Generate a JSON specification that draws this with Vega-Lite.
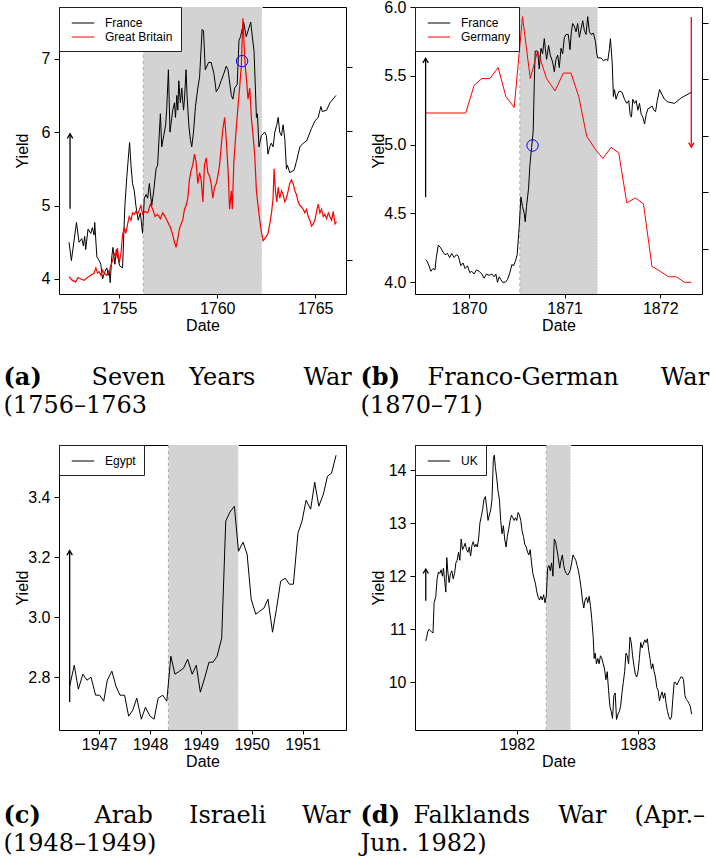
{
"$schema": "https://vega.github.io/schema/vega-lite/v6.json",
"background": "white",
"padding": {"left": 2, "top": -2, "right": 0, "bottom": 0},
"columns": 2,
"spacing": {"row": 151, "column": 69},
"bounds": "flush",
"resolve": {"scale": {"color": "independent"}, "legend": {"color": "independent"}},
"datasets": {
"a_fr": [{"date":1752.44,"yield":4.50},{"date":1752.56,"yield":4.25},{"date":1752.82,"yield":4.77},{"date":1752.95,"yield":4.50},{"date":1753.09,"yield":4.55},{"date":1753.17,"yield":4.45},{"date":1753.24,"yield":4.58},{"date":1753.29,"yield":4.40},{"date":1753.41,"yield":4.68},{"date":1753.55,"yield":4.62},{"date":1753.63,"yield":4.70},{"date":1753.72,"yield":4.60},{"date":1753.75,"yield":4.77},{"date":1753.86,"yield":4.30},{"date":1753.98,"yield":4.25},{"date":1754.06,"yield":4.20},{"date":1754.15,"yield":4.00},{"date":1754.27,"yield":4.10},{"date":1754.37,"yield":4.15},{"date":1754.44,"yield":4.05},{"date":1754.49,"yield":4.12},{"date":1754.54,"yield":3.95},{"date":1754.62,"yield":4.30},{"date":1754.68,"yield":4.43},{"date":1754.78,"yield":4.20},{"date":1754.85,"yield":4.40},{"date":1755.02,"yield":4.18},{"date":1755.17,"yield":4.15},{"date":1755.29,"yield":5.00},{"date":1755.39,"yield":5.40},{"date":1755.53,"yield":5.86},{"date":1755.60,"yield":5.55},{"date":1755.68,"yield":5.30},{"date":1755.77,"yield":5.20},{"date":1755.85,"yield":5.00},{"date":1755.97,"yield":4.80},{"date":1756.08,"yield":4.90},{"date":1756.19,"yield":4.62},{"date":1756.28,"yield":5.10},{"date":1756.37,"yield":5.15},{"date":1756.45,"yield":5.10},{"date":1756.54,"yield":5.30},{"date":1756.66,"yield":5.00},{"date":1756.76,"yield":5.20},{"date":1756.88,"yield":5.50},{"date":1756.96,"yield":5.55},{"date":1757.05,"yield":6.00},{"date":1757.10,"yield":6.25},{"date":1757.17,"yield":5.80},{"date":1757.27,"yield":5.95},{"date":1757.37,"yield":6.10},{"date":1757.42,"yield":6.30},{"date":1757.51,"yield":6.85},{"date":1757.59,"yield":6.00},{"date":1757.73,"yield":6.30},{"date":1757.82,"yield":6.40},{"date":1757.87,"yield":6.20},{"date":1757.94,"yield":6.50},{"date":1757.99,"yield":6.30},{"date":1758.04,"yield":6.70},{"date":1758.12,"yield":6.40},{"date":1758.19,"yield":6.60},{"date":1758.28,"yield":6.30},{"date":1758.33,"yield":6.45},{"date":1758.41,"yield":6.85},{"date":1758.46,"yield":6.50},{"date":1758.55,"yield":6.10},{"date":1758.63,"yield":5.90},{"date":1758.70,"yield":5.80},{"date":1758.79,"yield":6.00},{"date":1758.89,"yield":6.35},{"date":1759.01,"yield":6.60},{"date":1759.10,"yield":6.75},{"date":1759.23,"yield":7.40},{"date":1759.30,"yield":7.38},{"date":1759.39,"yield":6.85},{"date":1759.56,"yield":6.95},{"date":1759.69,"yield":6.95},{"date":1759.83,"yield":6.80},{"date":1759.95,"yield":6.55},{"date":1760.07,"yield":6.60},{"date":1760.20,"yield":6.70},{"date":1760.34,"yield":6.80},{"date":1760.46,"yield":6.90},{"date":1760.55,"yield":6.85},{"date":1760.72,"yield":6.50},{"date":1760.80,"yield":6.45},{"date":1760.89,"yield":6.60},{"date":1761.02,"yield":6.65},{"date":1761.11,"yield":7.25},{"date":1761.19,"yield":7.30},{"date":1761.35,"yield":7.50},{"date":1761.48,"yield":7.30},{"date":1761.71,"yield":7.50},{"date":1761.77,"yield":7.35},{"date":1761.88,"yield":7.10},{"date":1762.00,"yield":6.20},{"date":1762.05,"yield":6.25},{"date":1762.13,"yield":5.80},{"date":1762.25,"yield":5.95},{"date":1762.42,"yield":6.00},{"date":1762.51,"yield":5.95},{"date":1762.59,"yield":5.70},{"date":1762.68,"yield":5.80},{"date":1762.76,"yield":5.85},{"date":1762.85,"yield":5.80},{"date":1762.94,"yield":6.00},{"date":1763.04,"yield":6.10},{"date":1763.11,"yield":6.20},{"date":1763.19,"yield":6.00},{"date":1763.28,"yield":5.95},{"date":1763.36,"yield":6.10},{"date":1763.45,"yield":5.90},{"date":1763.53,"yield":5.50},{"date":1763.58,"yield":5.55},{"date":1763.70,"yield":5.45},{"date":1763.92,"yield":5.48},{"date":1764.04,"yield":5.60},{"date":1764.22,"yield":5.80},{"date":1764.39,"yield":5.85},{"date":1764.56,"yield":5.88},{"date":1764.81,"yield":6.05},{"date":1764.98,"yield":6.15},{"date":1765.15,"yield":6.20},{"date":1765.29,"yield":6.35},{"date":1765.36,"yield":6.28},{"date":1765.58,"yield":6.30},{"date":1765.75,"yield":6.40},{"date":1766.06,"yield":6.50}],
"a_gb": [{"date":1752.44,"yield":4.03},{"date":1752.61,"yield":3.98},{"date":1752.78,"yield":3.96},{"date":1752.90,"yield":4.02},{"date":1753.04,"yield":4.00},{"date":1753.21,"yield":3.98},{"date":1753.38,"yield":4.02},{"date":1753.55,"yield":4.05},{"date":1753.72,"yield":4.08},{"date":1753.81,"yield":4.15},{"date":1753.89,"yield":4.08},{"date":1753.98,"yield":4.10},{"date":1754.06,"yield":4.05},{"date":1754.15,"yield":4.12},{"date":1754.23,"yield":4.08},{"date":1754.37,"yield":4.05},{"date":1754.49,"yield":4.10},{"date":1754.57,"yield":4.18},{"date":1754.66,"yield":4.25},{"date":1754.74,"yield":4.35},{"date":1754.83,"yield":4.30},{"date":1754.91,"yield":4.42},{"date":1755.00,"yield":4.22},{"date":1755.09,"yield":4.35},{"date":1755.17,"yield":4.60},{"date":1755.26,"yield":4.70},{"date":1755.34,"yield":4.62},{"date":1755.43,"yield":4.75},{"date":1755.51,"yield":4.85},{"date":1755.60,"yield":4.80},{"date":1755.68,"yield":4.90},{"date":1755.77,"yield":4.88},{"date":1755.85,"yield":4.92},{"date":1755.94,"yield":4.88},{"date":1756.11,"yield":5.00},{"date":1756.19,"yield":4.88},{"date":1756.31,"yield":4.92},{"date":1756.45,"yield":4.90},{"date":1756.59,"yield":5.02},{"date":1756.71,"yield":4.95},{"date":1756.83,"yield":4.85},{"date":1756.96,"yield":4.88},{"date":1757.10,"yield":4.82},{"date":1757.22,"yield":4.90},{"date":1757.34,"yield":4.85},{"date":1757.47,"yield":4.78},{"date":1757.61,"yield":4.70},{"date":1757.73,"yield":4.60},{"date":1757.82,"yield":4.50},{"date":1757.90,"yield":4.43},{"date":1757.99,"yield":4.55},{"date":1758.07,"yield":4.68},{"date":1758.16,"yield":4.75},{"date":1758.24,"yield":4.80},{"date":1758.33,"yield":4.95},{"date":1758.41,"yield":5.00},{"date":1758.50,"yield":5.10},{"date":1758.58,"yield":5.35},{"date":1758.67,"yield":5.48},{"date":1758.75,"yield":5.55},{"date":1758.84,"yield":5.70},{"date":1758.92,"yield":5.60},{"date":1759.01,"yield":5.30},{"date":1759.10,"yield":5.45},{"date":1759.18,"yield":5.35},{"date":1759.27,"yield":5.05},{"date":1759.35,"yield":5.55},{"date":1759.44,"yield":5.65},{"date":1759.52,"yield":5.45},{"date":1759.61,"yield":5.40},{"date":1759.69,"yield":5.30},{"date":1759.78,"yield":5.10},{"date":1759.86,"yield":5.25},{"date":1759.95,"yield":5.30},{"date":1760.03,"yield":5.40},{"date":1760.12,"yield":5.55},{"date":1760.20,"yield":5.80},{"date":1760.29,"yield":6.05},{"date":1760.38,"yield":6.20},{"date":1760.46,"yield":5.90},{"date":1760.55,"yield":5.50},{"date":1760.63,"yield":4.95},{"date":1760.72,"yield":5.20},{"date":1760.77,"yield":4.95},{"date":1760.85,"yield":5.60},{"date":1760.97,"yield":6.05},{"date":1761.06,"yield":6.35},{"date":1761.14,"yield":6.60},{"date":1761.23,"yield":6.90},{"date":1761.31,"yield":7.55},{"date":1761.37,"yield":7.20},{"date":1761.43,"yield":6.90},{"date":1761.50,"yield":6.70},{"date":1761.57,"yield":6.45},{"date":1761.66,"yield":6.60},{"date":1761.74,"yield":6.20},{"date":1761.83,"yield":5.95},{"date":1761.91,"yield":5.70},{"date":1762.00,"yield":5.20},{"date":1762.08,"yield":5.00},{"date":1762.17,"yield":4.80},{"date":1762.25,"yield":4.65},{"date":1762.34,"yield":4.52},{"date":1762.42,"yield":4.55},{"date":1762.51,"yield":4.58},{"date":1762.59,"yield":4.62},{"date":1762.68,"yield":4.75},{"date":1762.77,"yield":4.90},{"date":1762.85,"yield":5.10},{"date":1762.90,"yield":5.50},{"date":1762.97,"yield":5.20},{"date":1763.04,"yield":5.05},{"date":1763.11,"yield":5.25},{"date":1763.19,"yield":5.10},{"date":1763.28,"yield":5.20},{"date":1763.36,"yield":5.15},{"date":1763.45,"yield":5.05},{"date":1763.53,"yield":5.10},{"date":1763.62,"yield":5.20},{"date":1763.70,"yield":5.30},{"date":1763.79,"yield":5.35},{"date":1763.87,"yield":5.30},{"date":1763.96,"yield":5.20},{"date":1764.04,"yield":5.15},{"date":1764.13,"yield":5.05},{"date":1764.22,"yield":5.00},{"date":1764.30,"yield":4.98},{"date":1764.39,"yield":4.95},{"date":1764.47,"yield":4.90},{"date":1764.56,"yield":4.95},{"date":1764.64,"yield":4.85},{"date":1764.73,"yield":4.80},{"date":1764.81,"yield":4.72},{"date":1764.90,"yield":4.75},{"date":1764.98,"yield":4.80},{"date":1765.07,"yield":4.92},{"date":1765.15,"yield":5.02},{"date":1765.24,"yield":4.90},{"date":1765.32,"yield":4.95},{"date":1765.41,"yield":4.85},{"date":1765.49,"yield":4.88},{"date":1765.58,"yield":4.82},{"date":1765.67,"yield":4.90},{"date":1765.75,"yield":4.85},{"date":1765.84,"yield":4.80},{"date":1765.92,"yield":4.92},{"date":1766.01,"yield":4.75},{"date":1766.09,"yield":4.78}],
"b_fr": [{"date":1869.545,"yield":4.165},{"date":1869.563,"yield":4.15},{"date":1869.580,"yield":4.12},{"date":1869.601,"yield":4.08},{"date":1869.622,"yield":4.10},{"date":1869.643,"yield":4.09},{"date":1869.657,"yield":4.18},{"date":1869.678,"yield":4.27},{"date":1869.703,"yield":4.25},{"date":1869.727,"yield":4.22},{"date":1869.748,"yield":4.20},{"date":1869.773,"yield":4.21},{"date":1869.797,"yield":4.18},{"date":1869.818,"yield":4.21},{"date":1869.843,"yield":4.18},{"date":1869.867,"yield":4.20},{"date":1869.888,"yield":4.19},{"date":1869.913,"yield":4.12},{"date":1869.937,"yield":4.14},{"date":1869.958,"yield":4.10},{"date":1869.983,"yield":4.12},{"date":1870.007,"yield":4.07},{"date":1870.028,"yield":4.08},{"date":1870.052,"yield":4.06},{"date":1870.077,"yield":4.09},{"date":1870.105,"yield":4.08},{"date":1870.133,"yield":4.06},{"date":1870.157,"yield":4.03},{"date":1870.182,"yield":4.06},{"date":1870.210,"yield":4.05},{"date":1870.238,"yield":4.06},{"date":1870.262,"yield":4.04},{"date":1870.280,"yield":4.06},{"date":1870.297,"yield":4.00},{"date":1870.315,"yield":4.04},{"date":1870.332,"yield":4.02},{"date":1870.350,"yield":4.00},{"date":1870.378,"yield":4.00},{"date":1870.402,"yield":4.02},{"date":1870.427,"yield":4.07},{"date":1870.448,"yield":4.13},{"date":1870.465,"yield":4.12},{"date":1870.483,"yield":4.15},{"date":1870.503,"yield":4.20},{"date":1870.524,"yield":4.40},{"date":1870.542,"yield":4.62},{"date":1870.559,"yield":4.55},{"date":1870.577,"yield":4.50},{"date":1870.587,"yield":4.44},{"date":1870.601,"yield":4.55},{"date":1870.622,"yield":4.68},{"date":1870.636,"yield":4.85},{"date":1870.654,"yield":4.98},{"date":1870.671,"yield":5.10},{"date":1870.682,"yield":5.45},{"date":1870.692,"yield":5.68},{"date":1870.717,"yield":5.68},{"date":1870.734,"yield":5.55},{"date":1870.752,"yield":5.70},{"date":1870.769,"yield":5.66},{"date":1870.787,"yield":5.77},{"date":1870.797,"yield":5.70},{"date":1870.811,"yield":5.62},{"date":1870.832,"yield":5.72},{"date":1870.850,"yield":5.65},{"date":1870.874,"yield":5.60},{"date":1870.892,"yield":5.53},{"date":1870.909,"yield":5.62},{"date":1870.927,"yield":5.65},{"date":1870.944,"yield":5.56},{"date":1870.962,"yield":5.70},{"date":1870.979,"yield":5.66},{"date":1870.997,"yield":5.78},{"date":1871.014,"yield":5.80},{"date":1871.038,"yield":5.80},{"date":1871.056,"yield":5.69},{"date":1871.070,"yield":5.82},{"date":1871.084,"yield":5.88},{"date":1871.101,"yield":5.86},{"date":1871.119,"yield":5.82},{"date":1871.136,"yield":5.88},{"date":1871.154,"yield":5.78},{"date":1871.171,"yield":5.84},{"date":1871.189,"yield":5.90},{"date":1871.206,"yield":5.83},{"date":1871.224,"yield":5.80},{"date":1871.241,"yield":5.93},{"date":1871.259,"yield":5.82},{"date":1871.276,"yield":5.80},{"date":1871.301,"yield":5.81},{"date":1871.322,"yield":5.75},{"date":1871.336,"yield":5.66},{"date":1871.346,"yield":5.63},{"date":1871.381,"yield":5.63},{"date":1871.406,"yield":5.61},{"date":1871.434,"yield":5.62},{"date":1871.451,"yield":5.61},{"date":1871.469,"yield":5.70},{"date":1871.479,"yield":5.77},{"date":1871.497,"yield":5.60},{"date":1871.510,"yield":5.35},{"date":1871.521,"yield":5.40},{"date":1871.538,"yield":5.33},{"date":1871.556,"yield":5.37},{"date":1871.573,"yield":5.39},{"date":1871.601,"yield":5.38},{"date":1871.626,"yield":5.33},{"date":1871.650,"yield":5.30},{"date":1871.671,"yield":5.32},{"date":1871.685,"yield":5.22},{"date":1871.699,"yield":5.20},{"date":1871.713,"yield":5.33},{"date":1871.731,"yield":5.30},{"date":1871.748,"yield":5.32},{"date":1871.766,"yield":5.25},{"date":1871.783,"yield":5.30},{"date":1871.801,"yield":5.22},{"date":1871.818,"yield":5.20},{"date":1871.836,"yield":5.15},{"date":1871.853,"yield":5.22},{"date":1871.871,"yield":5.26},{"date":1871.895,"yield":5.27},{"date":1871.916,"yield":5.28},{"date":1871.934,"yield":5.25},{"date":1871.951,"yield":5.24},{"date":1871.969,"yield":5.32},{"date":1871.993,"yield":5.40},{"date":1872.021,"yield":5.36},{"date":1872.045,"yield":5.33},{"date":1872.080,"yield":5.31},{"date":1872.150,"yield":5.30},{"date":1872.220,"yield":5.34},{"date":1872.325,"yield":5.38}],
"b_de": [{"date":1869.545,"yield":5.23},{"date":1869.965,"yield":5.23},{"date":1870.052,"yield":5.43},{"date":1870.133,"yield":5.48},{"date":1870.217,"yield":5.48},{"date":1870.304,"yield":5.56},{"date":1870.385,"yield":5.35},{"date":1870.472,"yield":5.27},{"date":1870.559,"yield":5.93},{"date":1870.640,"yield":5.48},{"date":1870.717,"yield":5.68},{"date":1870.811,"yield":5.48},{"date":1870.899,"yield":5.39},{"date":1870.986,"yield":5.52},{"date":1871.066,"yield":5.52},{"date":1871.147,"yield":5.35},{"date":1871.231,"yield":5.06},{"date":1871.322,"yield":4.965},{"date":1871.399,"yield":4.90},{"date":1871.486,"yield":4.98},{"date":1871.566,"yield":4.94},{"date":1871.650,"yield":4.577},{"date":1871.738,"yield":4.613},{"date":1871.825,"yield":4.57},{"date":1871.913,"yield":4.116},{"date":1872.000,"yield":4.08},{"date":1872.087,"yield":4.04},{"date":1872.168,"yield":4.04},{"date":1872.255,"yield":4.00},{"date":1872.325,"yield":4.00}],
"c_eg": [{"date":1946.42,"yield":2.77},{"date":1946.51,"yield":2.84},{"date":1946.59,"yield":2.76},{"date":1946.68,"yield":2.81},{"date":1946.76,"yield":2.79},{"date":1946.84,"yield":2.80},{"date":1946.93,"yield":2.74},{"date":1947.01,"yield":2.74},{"date":1947.09,"yield":2.72},{"date":1947.16,"yield":2.79},{"date":1947.25,"yield":2.82},{"date":1947.33,"yield":2.77},{"date":1947.41,"yield":2.74},{"date":1947.50,"yield":2.74},{"date":1947.58,"yield":2.67},{"date":1947.66,"yield":2.69},{"date":1947.74,"yield":2.73},{"date":1947.83,"yield":2.66},{"date":1947.91,"yield":2.70},{"date":1948.00,"yield":2.67},{"date":1948.08,"yield":2.66},{"date":1948.16,"yield":2.73},{"date":1948.25,"yield":2.74},{"date":1948.33,"yield":2.72},{"date":1948.41,"yield":2.87},{"date":1948.49,"yield":2.81},{"date":1948.58,"yield":2.82},{"date":1948.66,"yield":2.83},{"date":1948.74,"yield":2.86},{"date":1948.83,"yield":2.81},{"date":1948.91,"yield":2.84},{"date":1948.99,"yield":2.75},{"date":1949.08,"yield":2.80},{"date":1949.16,"yield":2.85},{"date":1949.24,"yield":2.85},{"date":1949.32,"yield":2.87},{"date":1949.41,"yield":2.93},{"date":1949.49,"yield":3.32},{"date":1949.57,"yield":3.35},{"date":1949.66,"yield":3.37},{"date":1949.74,"yield":3.22},{"date":1949.83,"yield":3.25},{"date":1949.91,"yield":3.21},{"date":1949.99,"yield":3.06},{"date":1950.08,"yield":3.01},{"date":1950.16,"yield":3.02},{"date":1950.24,"yield":3.03},{"date":1950.32,"yield":3.06},{"date":1950.41,"yield":2.95},{"date":1950.49,"yield":3.03},{"date":1950.57,"yield":3.12},{"date":1950.66,"yield":3.13},{"date":1950.74,"yield":3.11},{"date":1950.82,"yield":3.11},{"date":1950.91,"yield":3.28},{"date":1950.99,"yield":3.32},{"date":1951.07,"yield":3.39},{"date":1951.16,"yield":3.36},{"date":1951.24,"yield":3.45},{"date":1951.32,"yield":3.37},{"date":1951.41,"yield":3.41},{"date":1951.49,"yield":3.47},{"date":1951.57,"yield":3.48},{"date":1951.66,"yield":3.54}],
"d_uk": [{"date":1981.247,"yield":10.78},{"date":1981.255,"yield":10.85},{"date":1981.263,"yield":10.95},{"date":1981.274,"yield":11.00},{"date":1981.285,"yield":10.97},{"date":1981.296,"yield":10.95},{"date":1981.307,"yield":10.93},{"date":1981.316,"yield":11.50},{"date":1981.330,"yield":11.62},{"date":1981.341,"yield":11.95},{"date":1981.352,"yield":12.08},{"date":1981.363,"yield":12.05},{"date":1981.374,"yield":12.12},{"date":1981.385,"yield":12.00},{"date":1981.393,"yield":12.15},{"date":1981.402,"yield":11.95},{"date":1981.413,"yield":11.70},{"date":1981.421,"yield":12.35},{"date":1981.429,"yield":12.10},{"date":1981.440,"yield":11.88},{"date":1981.452,"yield":12.05},{"date":1981.463,"yield":12.10},{"date":1981.474,"yield":11.95},{"date":1981.485,"yield":12.05},{"date":1981.496,"yield":12.25},{"date":1981.507,"yield":12.30},{"date":1981.518,"yield":12.45},{"date":1981.529,"yield":12.30},{"date":1981.540,"yield":12.70},{"date":1981.551,"yield":12.50},{"date":1981.562,"yield":12.55},{"date":1981.573,"yield":12.62},{"date":1981.584,"yield":12.50},{"date":1981.596,"yield":12.45},{"date":1981.607,"yield":12.55},{"date":1981.618,"yield":12.38},{"date":1981.629,"yield":12.58},{"date":1981.640,"yield":12.65},{"date":1981.651,"yield":12.55},{"date":1981.662,"yield":12.60},{"date":1981.673,"yield":12.55},{"date":1981.684,"yield":12.70},{"date":1981.695,"yield":13.00},{"date":1981.706,"yield":13.12},{"date":1981.717,"yield":13.25},{"date":1981.729,"yield":13.45},{"date":1981.740,"yield":13.50},{"date":1981.751,"yield":13.30},{"date":1981.762,"yield":13.05},{"date":1981.773,"yield":13.15},{"date":1981.784,"yield":13.25},{"date":1981.795,"yield":13.45},{"date":1981.806,"yield":14.20},{"date":1981.814,"yield":14.28},{"date":1981.823,"yield":14.05},{"date":1981.834,"yield":13.85},{"date":1981.845,"yield":13.60},{"date":1981.856,"yield":13.45},{"date":1981.867,"yield":13.05},{"date":1981.878,"yield":12.80},{"date":1981.889,"yield":12.95},{"date":1981.900,"yield":12.70},{"date":1981.911,"yield":12.55},{"date":1981.922,"yield":12.75},{"date":1981.934,"yield":12.90},{"date":1981.945,"yield":13.05},{"date":1981.956,"yield":13.15},{"date":1981.967,"yield":13.10},{"date":1981.978,"yield":13.05},{"date":1981.989,"yield":13.10},{"date":1982.000,"yield":13.05},{"date":1982.011,"yield":13.20},{"date":1982.022,"yield":13.15},{"date":1982.033,"yield":13.05},{"date":1982.044,"yield":12.85},{"date":1982.055,"yield":12.75},{"date":1982.066,"yield":12.60},{"date":1982.078,"yield":12.55},{"date":1982.089,"yield":12.45},{"date":1982.100,"yield":12.40},{"date":1982.111,"yield":12.50},{"date":1982.122,"yield":12.25},{"date":1982.133,"yield":12.05},{"date":1982.144,"yield":11.95},{"date":1982.155,"yield":11.85},{"date":1982.166,"yield":11.70},{"date":1982.177,"yield":11.60},{"date":1982.188,"yield":11.55},{"date":1982.199,"yield":11.62},{"date":1982.211,"yield":11.55},{"date":1982.222,"yield":11.65},{"date":1982.233,"yield":11.50},{"date":1982.244,"yield":11.62},{"date":1982.255,"yield":12.15},{"date":1982.266,"yield":12.20},{"date":1982.277,"yield":12.10},{"date":1982.288,"yield":12.25},{"date":1982.299,"yield":12.00},{"date":1982.310,"yield":12.70},{"date":1982.321,"yield":12.65},{"date":1982.332,"yield":12.50},{"date":1982.343,"yield":12.35},{"date":1982.355,"yield":12.15},{"date":1982.366,"yield":12.30},{"date":1982.377,"yield":12.40},{"date":1982.388,"yield":12.20},{"date":1982.399,"yield":12.10},{"date":1982.410,"yield":12.05},{"date":1982.421,"yield":12.02},{"date":1982.432,"yield":12.06},{"date":1982.443,"yield":12.12},{"date":1982.454,"yield":12.25},{"date":1982.465,"yield":12.40},{"date":1982.476,"yield":12.35},{"date":1982.488,"yield":12.30},{"date":1982.499,"yield":12.20},{"date":1982.510,"yield":12.10},{"date":1982.521,"yield":11.95},{"date":1982.532,"yield":11.78},{"date":1982.543,"yield":11.55},{"date":1982.554,"yield":11.40},{"date":1982.565,"yield":11.55},{"date":1982.576,"yield":11.60},{"date":1982.587,"yield":11.50},{"date":1982.598,"yield":11.62},{"date":1982.609,"yield":11.45},{"date":1982.620,"yield":11.20},{"date":1982.632,"yield":10.85},{"date":1982.640,"yield":10.45},{"date":1982.648,"yield":10.55},{"date":1982.659,"yield":10.35},{"date":1982.670,"yield":10.45},{"date":1982.681,"yield":10.35},{"date":1982.692,"yield":10.50},{"date":1982.704,"yield":10.45},{"date":1982.715,"yield":10.35},{"date":1982.726,"yield":10.25},{"date":1982.737,"yield":10.05},{"date":1982.748,"yield":10.20},{"date":1982.759,"yield":9.85},{"date":1982.770,"yield":9.55},{"date":1982.781,"yield":9.45},{"date":1982.792,"yield":9.32},{"date":1982.803,"yield":9.75},{"date":1982.814,"yield":9.80},{"date":1982.825,"yield":9.30},{"date":1982.837,"yield":9.40},{"date":1982.848,"yield":9.45},{"date":1982.859,"yield":9.55},{"date":1982.870,"yield":9.80},{"date":1982.881,"yield":10.00},{"date":1982.892,"yield":10.20},{"date":1982.903,"yield":10.55},{"date":1982.914,"yield":10.50},{"date":1982.925,"yield":10.35},{"date":1982.936,"yield":10.85},{"date":1982.947,"yield":10.75},{"date":1982.958,"yield":10.50},{"date":1982.970,"yield":10.30},{"date":1982.981,"yield":10.15},{"date":1982.992,"yield":10.10},{"date":1983.003,"yield":10.20},{"date":1983.014,"yield":10.45},{"date":1983.025,"yield":10.75},{"date":1983.036,"yield":10.65},{"date":1983.047,"yield":10.72},{"date":1983.058,"yield":10.80},{"date":1983.069,"yield":10.75},{"date":1983.080,"yield":10.82},{"date":1983.091,"yield":10.60},{"date":1983.102,"yield":10.45},{"date":1983.114,"yield":10.25},{"date":1983.125,"yield":10.35},{"date":1983.136,"yield":10.20},{"date":1983.147,"yield":10.10},{"date":1983.158,"yield":9.90},{"date":1983.169,"yield":9.85},{"date":1983.180,"yield":9.65},{"date":1983.191,"yield":9.75},{"date":1983.202,"yield":9.82},{"date":1983.213,"yield":9.70},{"date":1983.224,"yield":9.80},{"date":1983.235,"yield":9.60},{"date":1983.247,"yield":9.45},{"date":1983.258,"yield":9.35},{"date":1983.269,"yield":9.30},{"date":1983.280,"yield":9.35},{"date":1983.291,"yield":9.70},{"date":1983.302,"yield":10.00},{"date":1983.313,"yield":10.00},{"date":1983.324,"yield":9.95},{"date":1983.335,"yield":10.00},{"date":1983.346,"yield":10.05},{"date":1983.357,"yield":10.10},{"date":1983.368,"yield":10.10},{"date":1983.379,"yield":10.05},{"date":1983.391,"yield":9.75},{"date":1983.402,"yield":9.68},{"date":1983.413,"yield":9.65},{"date":1983.424,"yield":9.60},{"date":1983.435,"yield":9.55},{"date":1983.446,"yield":9.40}]
},
"concat": [
{
"width": 287, "height": 287,
"resolve": {"axis": {"x": "independent", "y": "independent"}},
"layer": [
{"data": {"values": [{"start": 1756.229, "end": 1762.287}]}, "mark": {"type": "rect", "color": "#d3d3d3"},
 "encoding": {"x": {"field": "start", "type": "quantitative", "title": "Date", "scale": {"domain": [1751.928, 1766.57], "nice": false, "zero": false}, "axis": {"values": [1755, 1760, 1765], "format": "d"}}, "x2": {"field": "end"}}},
{"data": {"values": [{"start": 1756.229, "end": 1762.287}]}, "mark": {"type": "rule", "color": "#aaaaaa", "strokeDash": [3, 3], "strokeWidth": 1},
 "encoding": {"x": {"field": "start", "type": "quantitative", "axis": null}}},
{"data": {"values": [{"start": 1756.229, "end": 1762.287}]}, "mark": {"type": "rule", "color": "white", "strokeDash": [1, 2], "strokeWidth": 1},
 "encoding": {"x": {"field": "end", "type": "quantitative", "axis": null}}},
{"data": {"name": "a_fr"}, "mark": {"type": "line", "strokeWidth": 1},
 "encoding": {"x": {"field": "date", "type": "quantitative", "axis": {"orient": "bottom", "labels": false, "ticks": false, "domain": false, "title": "(a)", "titleFont": "DejaVu Serif", "titleFontSize": 24, "titleFontWeight": "bold", "titleX": -56, "titleY": 90, "titleAlign": "left", "titleBaseline": "alphabetic", "titleAngle": 0}},
  "y": {"field": "yield", "type": "quantitative", "title": "Yield", "scale": {"domain": [3.795, 7.705], "nice": false, "zero": false}, "axis": {"orient": "left", "values": [4, 5, 6, 7], "format": "d"}},
  "color": {"datum": "France", "scale": {"domain": ["France", "Great Britain"], "range": ["black", "red"]}, "legend": {"title": null}}}},
{"data": {"name": "a_gb"}, "mark": {"type": "line", "strokeWidth": 1.2},
 "encoding": {"x": {"field": "date", "type": "quantitative", "axis": {"orient": "bottom", "labels": false, "ticks": false, "domain": false, "title": "Seven\u2003Years\u2003\u2003War", "titleFont": "DejaVu Serif", "titleFontSize": 24, "titleFontWeight": "normal", "titleX": 32, "titleY": 90, "titleAlign": "left", "titleBaseline": "alphabetic", "titleAngle": 0}},
  "y": {"field": "yield", "type": "quantitative", "axis": null},
  "color": {"datum": "Great Britain", "legend": {"title": null}}}},
{"data": {"values": [{"date": 1752.491, "from": 4.955, "to": 5.977}]}, "mark": {"type": "rule", "color": "black", "strokeWidth": 1.3},
 "encoding": {"x": {"field": "date", "type": "quantitative", "axis": {"orient": "bottom", "labels": false, "ticks": false, "domain": false, "title": "(1756\u20131763", "titleFont": "DejaVu Serif", "titleFontSize": 24, "titleFontWeight": "normal", "titleX": -56, "titleY": 118, "titleAlign": "left", "titleBaseline": "alphabetic", "titleAngle": 0}}, "y": {"field": "from", "type": "quantitative", "axis": null}, "y2": {"field": "to"}}},
{"data": {"values": [{"date": 1752.491, "from": 4.955, "to": 5.977}]}, "mark": {"type": "point", "shape": "M-0.6,1L0,0L0.6,1", "filled": false, "color": "black", "size": 80, "strokeWidth": 1.3, "opacity": 1},
 "encoding": {"x": {"field": "date", "type": "quantitative", "axis": null}, "y": {"field": "to", "type": "quantitative", "axis": null}}},
{"data": {"values": [{"date": 1761.27, "yield": 6.968}]}, "mark": {"type": "point", "shape": "circle", "filled": false, "color": "blue", "size": 130, "strokeWidth": 1, "opacity": 1},
 "encoding": {"x": {"field": "date", "type": "quantitative", "axis": null}, "y": {"field": "yield", "type": "quantitative", "axis": {"orient": "right", "values": [4.259, 5.136, 6.009, 6.886], "labels": false, "title": null, "tickSize": 6}}}}
]
},
{
"width": 287, "height": 287,
"resolve": {"axis": {"x": "independent", "y": "independent"}},
"layer": [
{"data": {"values": [{"start": 1870.531, "end": 1871.346}]}, "mark": {"type": "rect", "color": "#d3d3d3"},
 "encoding": {"x": {"field": "start", "type": "quantitative", "title": "Date", "scale": {"domain": [1869.434, 1872.437], "nice": false, "zero": false}, "axis": {"values": [1870, 1871, 1872], "format": "d"}}, "x2": {"field": "end"}}},
{"data": {"values": [{"start": 1870.531, "end": 1871.346}]}, "mark": {"type": "rule", "color": "#aaaaaa", "strokeDash": [3, 3], "strokeWidth": 1},
 "encoding": {"x": {"field": "start", "type": "quantitative", "axis": null}}},
{"data": {"values": [{"start": 1870.531, "end": 1871.346}]}, "mark": {"type": "rule", "color": "white", "strokeDash": [1, 2], "strokeWidth": 1},
 "encoding": {"x": {"field": "end", "type": "quantitative", "axis": null}}},
{"data": {"name": "b_fr"}, "mark": {"type": "line", "strokeWidth": 1},
 "encoding": {"x": {"field": "date", "type": "quantitative", "axis": {"orient": "bottom", "labels": false, "ticks": false, "domain": false, "title": "(b)", "titleFont": "DejaVu Serif", "titleFontSize": 24, "titleFontWeight": "bold", "titleX": -55, "titleY": 90, "titleAlign": "left", "titleBaseline": "alphabetic", "titleAngle": 0}},
  "y": {"field": "yield", "type": "quantitative", "title": "Yield", "scale": {"domain": [3.915, 6.0], "nice": false, "zero": false}, "axis": {"orient": "left", "values": [4, 4.5, 5, 5.5, 6], "format": ".1f"}},
  "color": {"datum": "France", "scale": {"domain": ["France", "Germany"], "range": ["black", "red"]}, "legend": {"title": null}}}},
{"data": {"name": "b_de"}, "mark": {"type": "line", "strokeWidth": 1},
 "encoding": {"x": {"field": "date", "type": "quantitative", "axis": {"orient": "bottom", "labels": false, "ticks": false, "domain": false, "title": "Franco-German\u2003\u2002\u2005War", "titleFont": "DejaVu Serif", "titleFontSize": 24, "titleFontWeight": "normal", "titleX": 12, "titleY": 90, "titleAlign": "left", "titleBaseline": "alphabetic", "titleAngle": 0}},
  "y": {"field": "yield", "type": "quantitative", "axis": null},
  "color": {"datum": "Germany", "legend": {"title": null}}}},
{"data": {"values": [{"date": 1869.545, "from": 4.618, "to": 5.627}]}, "mark": {"type": "rule", "color": "black", "strokeWidth": 1.3},
 "encoding": {"x": {"field": "date", "type": "quantitative", "axis": {"orient": "bottom", "labels": false, "ticks": false, "domain": false, "title": "(1870\u201371)", "titleFont": "DejaVu Serif", "titleFontSize": 24, "titleFontWeight": "normal", "titleX": -55, "titleY": 118, "titleAlign": "left", "titleBaseline": "alphabetic", "titleAngle": 0}}, "y": {"field": "from", "type": "quantitative", "axis": null}, "y2": {"field": "to"}}},
{"data": {"values": [{"date": 1869.545, "from": 4.618, "to": 5.627}]}, "mark": {"type": "point", "shape": "M-0.6,1L0,0L0.6,1", "filled": false, "color": "black", "size": 80, "strokeWidth": 1.3, "opacity": 1},
 "encoding": {"x": {"field": "date", "type": "quantitative", "axis": null}, "y": {"field": "to", "type": "quantitative", "axis": null}}},
{"data": {"values": [{"date": 1872.325, "from": 5.927, "to": 4.982}]}, "mark": {"type": "rule", "color": "red", "strokeWidth": 1.3},
 "encoding": {"x": {"field": "date", "type": "quantitative", "axis": null}, "y": {"field": "from", "type": "quantitative", "axis": null}, "y2": {"field": "to"}}},
{"data": {"values": [{"date": 1872.325, "from": 5.927, "to": 4.982}]}, "mark": {"type": "point", "shape": "M-0.6,-1L0,0L0.6,-1", "filled": false, "color": "red", "size": 80, "strokeWidth": 1.3, "opacity": 1},
 "encoding": {"x": {"field": "date", "type": "quantitative", "axis": null}, "y": {"field": "to", "type": "quantitative", "axis": null}}},
{"data": {"values": [{"date": 1870.664, "yield": 4.994}]}, "mark": {"type": "point", "shape": "circle", "filled": false, "color": "blue", "size": 130, "strokeWidth": 1, "opacity": 1},
 "encoding": {"x": {"field": "date", "type": "quantitative", "axis": null}, "y": {"field": "yield", "type": "quantitative", "axis": {"orient": "right", "values": [4.242, 4.655, 5.062, 5.474, 5.886], "labels": false, "title": null, "tickSize": 6}}}}
]
},
{
"width": 287, "height": 285,
"resolve": {"axis": {"x": "independent"}},
"layer": [
{"data": {"values": [{"start": 1948.362, "end": 1949.737}]}, "mark": {"type": "rect", "color": "#d3d3d3"},
 "encoding": {"x": {"field": "start", "type": "quantitative", "title": "Date", "scale": {"domain": [1946.21, 1951.855], "nice": false, "zero": false}, "axis": {"values": [1947, 1948, 1949, 1950, 1951], "format": "d"}}, "x2": {"field": "end"}}},
{"data": {"values": [{"start": 1948.362, "end": 1949.737}]}, "mark": {"type": "rule", "color": "#aaaaaa", "strokeDash": [3, 3], "strokeWidth": 1},
 "encoding": {"x": {"field": "start", "type": "quantitative", "axis": null}}},
{"data": {"values": [{"start": 1948.362, "end": 1949.737}]}, "mark": {"type": "rule", "color": "white", "strokeDash": [1, 2], "strokeWidth": 1},
 "encoding": {"x": {"field": "end", "type": "quantitative", "axis": null}}},
{"data": {"name": "c_eg"}, "mark": {"type": "line", "strokeWidth": 1},
 "encoding": {"x": {"field": "date", "type": "quantitative", "axis": {"orient": "bottom", "labels": false, "ticks": false, "domain": false, "title": "(c)", "titleFont": "DejaVu Serif", "titleFontSize": 24, "titleFontWeight": "bold", "titleX": -56, "titleY": 92, "titleAlign": "left", "titleBaseline": "alphabetic", "titleAngle": 0}},
  "y": {"field": "yield", "type": "quantitative", "title": "Yield", "scale": {"domain": [2.624, 3.574], "nice": false, "zero": false}, "axis": {"orient": "left", "values": [2.8, 3.0, 3.2, 3.4], "format": ".1f"}},
  "color": {"datum": "Egypt", "scale": {"domain": ["Egypt"], "range": ["black"]}, "legend": {"title": null}}}},
{"data": {"values": [{"date": 1946.42, "from": 2.717, "to": 3.222}]}, "mark": {"type": "rule", "color": "black", "strokeWidth": 1.3},
 "encoding": {"x": {"field": "date", "type": "quantitative", "axis": {"orient": "bottom", "labels": false, "ticks": false, "domain": false, "title": "Arab\u2003\u2002Israeli\u2003\u2002War", "titleFont": "DejaVu Serif", "titleFontSize": 24, "titleFontWeight": "normal", "titleX": 35, "titleY": 92, "titleAlign": "left", "titleBaseline": "alphabetic", "titleAngle": 0}}, "y": {"field": "from", "type": "quantitative", "title": "Yield"}, "y2": {"field": "to"}}},
{"data": {"values": [{"date": 1946.42, "from": 2.717, "to": 3.222}]}, "mark": {"type": "point", "shape": "M-0.6,1L0,0L0.6,1", "filled": false, "color": "black", "size": 80, "strokeWidth": 1.3, "opacity": 1},
 "encoding": {"x": {"field": "date", "type": "quantitative", "axis": {"orient": "bottom", "labels": false, "ticks": false, "domain": false, "title": "(1948\u20131949)", "titleFont": "DejaVu Serif", "titleFontSize": 24, "titleFontWeight": "normal", "titleX": -56, "titleY": 120, "titleAlign": "left", "titleBaseline": "alphabetic", "titleAngle": 0}}, "y": {"field": "to", "type": "quantitative", "title": "Yield"}}}
]
},
{
"width": 287, "height": 285,
"resolve": {"axis": {"x": "independent"}},
"layer": [
{"data": {"values": [{"start": 1982.244, "end": 1982.446}]}, "mark": {"type": "rect", "color": "#d3d3d3"},
 "encoding": {"x": {"field": "start", "type": "quantitative", "title": "Date", "scale": {"domain": [1981.158, 1983.532], "nice": false, "zero": false}, "axis": {"values": [1982, 1983], "format": "d"}}, "x2": {"field": "end"}}},
{"data": {"values": [{"start": 1982.244, "end": 1982.446}]}, "mark": {"type": "rule", "color": "#aaaaaa", "strokeDash": [3, 3], "strokeWidth": 1},
 "encoding": {"x": {"field": "start", "type": "quantitative", "axis": null}}},
{"data": {"values": [{"start": 1982.244, "end": 1982.446}]}, "mark": {"type": "rule", "color": "white", "strokeDash": [1, 2], "strokeWidth": 1},
 "encoding": {"x": {"field": "end", "type": "quantitative", "axis": null}}},
{"data": {"name": "d_uk"}, "mark": {"type": "line", "strokeWidth": 1},
 "encoding": {"x": {"field": "date", "type": "quantitative", "axis": {"orient": "bottom", "labels": false, "ticks": false, "domain": false, "title": "(d)", "titleFont": "DejaVu Serif", "titleFontSize": 24, "titleFontWeight": "bold", "titleX": -55, "titleY": 92, "titleAlign": "left", "titleBaseline": "alphabetic", "titleAngle": 0}},
  "y": {"field": "yield", "type": "quantitative", "title": "Yield", "scale": {"domain": [9.102, 14.471], "nice": false, "zero": false}, "axis": {"orient": "left", "values": [10, 11, 12, 13, 14], "format": "d"}},
  "color": {"datum": "UK", "scale": {"domain": ["UK"], "range": ["black"]}, "legend": {"title": null}}}},
{"data": {"values": [{"date": 1981.247, "from": 11.538, "to": 12.135}]}, "mark": {"type": "rule", "color": "black", "strokeWidth": 1.3},
 "encoding": {"x": {"field": "date", "type": "quantitative", "axis": {"orient": "bottom", "labels": false, "ticks": false, "domain": false, "title": "Falklands\u2003\u2006War\u2003\u2006(Apr.\u2013", "titleFont": "DejaVu Serif", "titleFontSize": 24, "titleFontWeight": "normal", "titleX": -2, "titleY": 92, "titleAlign": "left", "titleBaseline": "alphabetic", "titleAngle": 0}}, "y": {"field": "from", "type": "quantitative", "title": "Yield"}, "y2": {"field": "to"}}},
{"data": {"values": [{"date": 1981.247, "from": 11.538, "to": 12.135}]}, "mark": {"type": "point", "shape": "M-0.6,1L0,0L0.6,1", "filled": false, "color": "black", "size": 80, "strokeWidth": 1.3, "opacity": 1},
 "encoding": {"x": {"field": "date", "type": "quantitative", "axis": {"orient": "bottom", "labels": false, "ticks": false, "domain": false, "title": "Jun. 1982)", "titleFont": "DejaVu Serif", "titleFontSize": 24, "titleFontWeight": "normal", "titleX": -55, "titleY": 120, "titleAlign": "left", "titleBaseline": "alphabetic", "titleAngle": 0}}, "y": {"field": "to", "type": "quantitative", "title": "Yield"}}}
]
}
],
"config": {
 "font": "Liberation Sans",
 "view": {"stroke": "black", "strokeWidth": 1},
 "axis": {"grid": false, "domain": false, "labelFont": "Liberation Sans", "labelFontSize": 16, "labelColor": "black", "titleFont": "Liberation Sans", "titleFontSize": 16, "titleFontWeight": "normal", "titleColor": "black", "tickColor": "black", "labelFlush": false, "labelOverlap": false, "labelBound": false},
 "axisLeft": {"tickSize": 5, "labelPadding": 4, "titleX": -37, "titleBaseline": "middle"},
 "axisBottom": {"tickSize": 4, "labelPadding": 2, "titlePadding": 1},
 "legend": {"orient": "top-left", "offset": 0, "padding": 8, "strokeColor": "#222", "fillColor": "white", "symbolType": "M-1.5,0L1.5,0", "symbolSize": 225, "symbolStrokeWidth": 1, "labelFont": "Liberation Sans", "labelFontSize": 12, "labelColor": "black", "labelOffset": 14, "rowPadding": 0, "symbolOffset": 8, "cornerRadius": 0}
}
}
